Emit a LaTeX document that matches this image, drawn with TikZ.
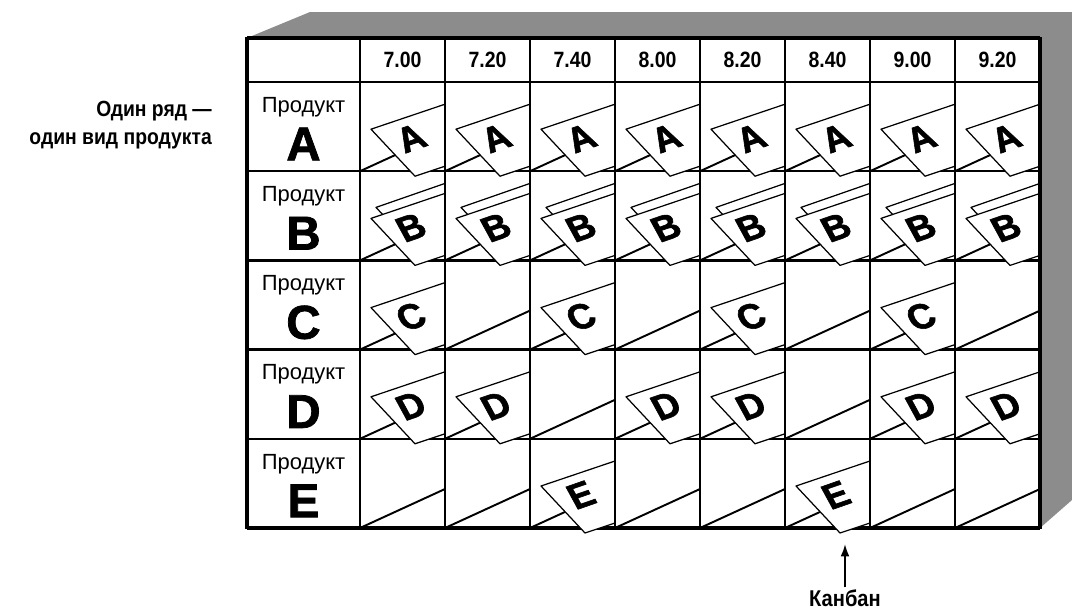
\documentclass[tikz,border=0pt]{standalone}
\usepackage{fontspec}
\setmainfont{Liberation Sans}
\newfontfamily\narrowfont{Liberation Sans}[FakeStretch=0.88]
\newfontfamily\heavyfont{Liberation Sans Bold}[FakeBold=1.6]
\usetikzlibrary{arrows.meta}

\tikzset{
  outerline/.style={line width=2pt},
  gridline/.style={line width=1.4pt},
  slotline/.style={line width=1.1pt},
  kanbancard/.style={fill=white,draw,line width=0.7pt,line join=round},
  cardletter/.style={inner sep=0pt,font=\heavyfont\fontsize{21}{21}\selectfont,
    cm={0.92,0.32,-0.48,0.88,(0,0)}},
  timelabel/.style={font=\narrowfont\bfseries\fontsize{12.6}{14}\selectfont},
  prodword/.style={font=\fontsize{12.5}{14}\selectfont},
  prodletter/.style={font=\heavyfont\fontsize{27}{27}\selectfont},
  notetext/.style={font=\narrowfont\bfseries\fontsize{12.5}{16}\selectfont,align=right},
}

% card standing in the slot of the cell with lower left corner (#1,#2)
\newcommand{\kcard}[2]{%
  \draw[kanbancard] ({#1+11},{#2-42}) -- ({#1+85},{#2-67}) -- ({#1+85},{#2-5})
    -- ({#1+55},{#2+5}) -- cycle;
}
% second card, just behind the first one
\newcommand{\kcardback}[2]{%
  \draw[kanbancard] ({#1+16},{#2-53}) -- ({#1+85},{#2-77}) -- ({#1+85},{#2-15})
    -- ({#1+60},{#2-6}) -- cycle;
}

\begin{document}
\begin{tikzpicture}[x=0.02cm,y=-0.02cm]
\useasboundingbox (0,0) rectangle (1072,612);

% board
\fill[black!45] (247,38) -- (310,12) -- (1072,12) -- (1072,500) -- (1040,528) -- cycle;
\fill[white] (247,38) rectangle (1040,528);

\foreach \y in {82,171.2,260.4,349.6,438.8}
  \draw[gridline] (247,\y) -- (1040,\y);
\draw[outerline] (247,38) -- (1040,38);
\draw[outerline] (247,528) -- (1040,528);

% slots
\foreach \r in {1,...,5}
  \foreach \c in {1,...,8} {
    \pgfmathsetmacro\cx{360+85*(\c-1)}
    \pgfmathsetmacro\cy{82+89.2*\r}
    \draw[slotline] (\cx,\cy) -- ({\cx+85},{\cy-39});
  }

% cards
\foreach \r/\p/\cols in {1/A/{1,2,3,4,5,6,7,8},2/B/{1,2,3,4,5,6,7,8},
    3/C/{1,3,5,7},4/D/{1,2,4,5,7,8},5/E/{3,6}}
  \foreach \c in \cols {
    \pgfmathsetmacro\cx{360+85*(\c-1)}
    \pgfmathsetmacro\cy{82+89.2*\r}
    \ifnum\r=2 \kcardback{\cx}{\cy}\fi
    \kcard{\cx}{\cy}
    \node[cardletter] (k\r\c) at ({\cx+51},{\cy-33}) {\p};
  }

\foreach \x in {360,445,...,955}
  \draw[gridline] (\x,38) -- (\x,528);
\draw[outerline] (247,37) -- (247,529);
\draw[outerline] (1040,37) -- (1040,529);

% header
\foreach \t [count=\c] in {7.00,7.20,7.40,8.00,8.20,8.40,9.00,9.20}
  \node[timelabel] (t\c) at ({317.5+85*\c},60) {\t};

\foreach \p [count=\r] in {A,B,C,D,E} {
  \node[prodword] (word\r) at (303.5,{82+89.2*(\r-1)+25}) {Продукт};
  \node[prodletter] (big\r) at (303.5,{82+89.2*(\r-1)+62}) {\p};
}

\node[notetext,anchor=east] (rownote) at (218,125) {Один ряд — \\ один вид продукта};

\node[inner sep=1pt,font=\narrowfont\bfseries\fontsize{13}{14}\selectfont] (kanbanlabel) at (845,598) {Канбан};
\coordinate (kanbantip) at (845,544);
\draw[line width=1.1pt,-{Latex[length=7pt,width=5pt]}] (kanbanlabel) -- (kanbantip);
\end{tikzpicture}
\end{document}
